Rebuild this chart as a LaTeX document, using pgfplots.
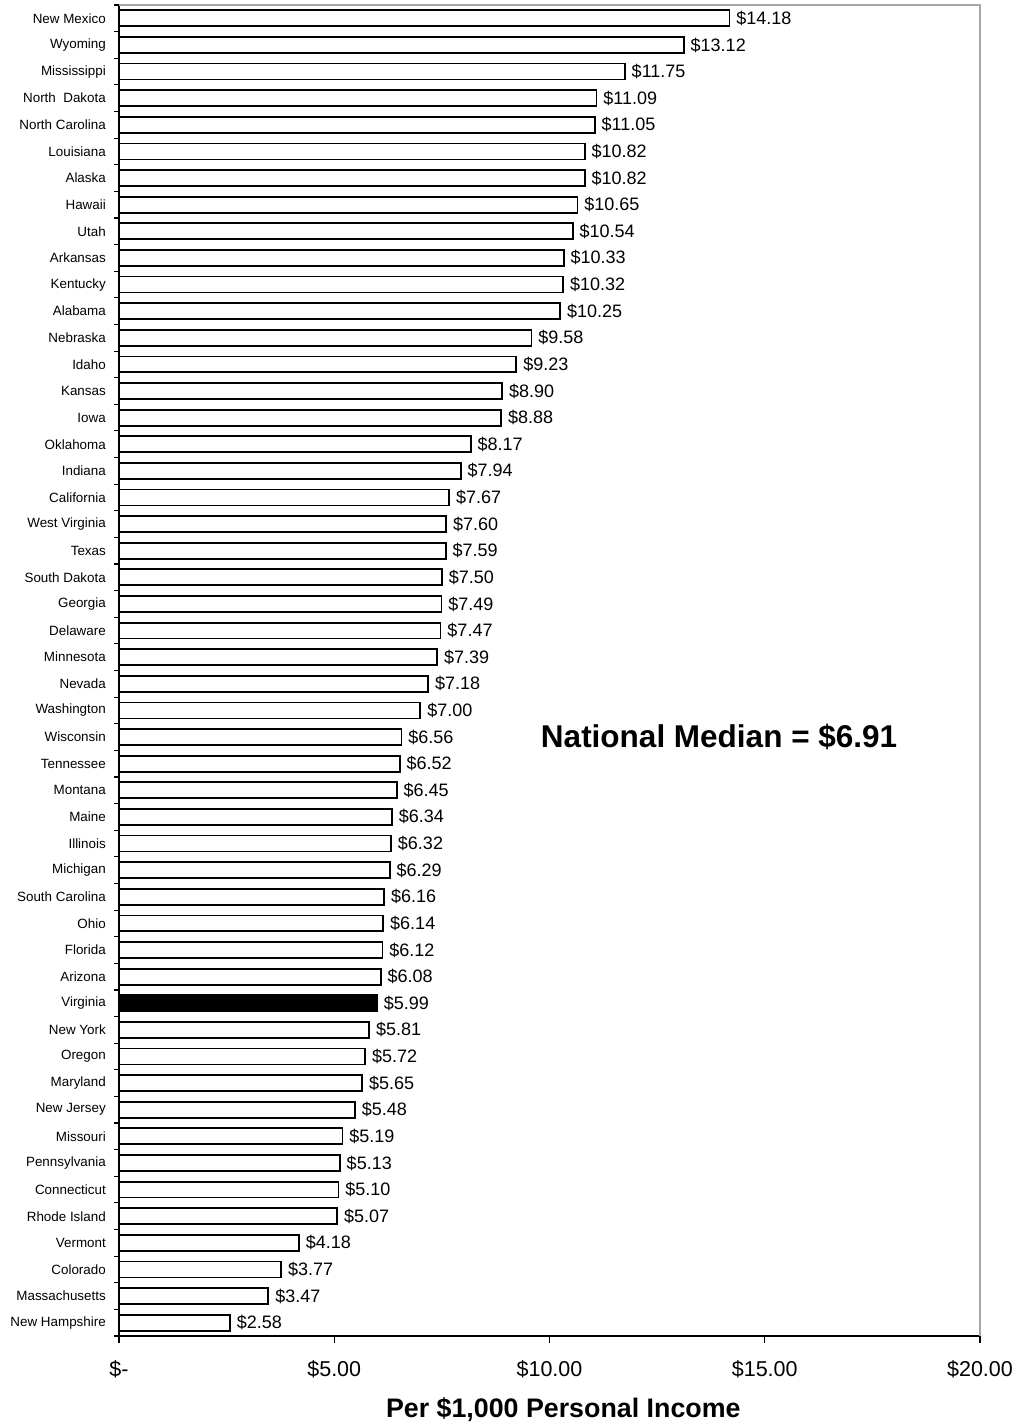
\documentclass[border=0pt]{standalone}
\usepackage{pgfplots}
\pgfplotsset{compat=1.18}
\usepackage{fontspec}
\setmainfont{Liberation Sans}

\begin{document}
\begin{tikzpicture}
\path[use as bounding box] (-119pt,-88pt) rectangle (899pt,1336pt);
\begin{axis}[
  at={(0,0)}, anchor=south west,
  scale only axis, width=861pt, height=1331pt,
  xbar, bar shift=0pt, bar width=0.6,
  xmin=0, xmax=20, ymin=-0.5, ymax=49.5,
  clip=false,
  axis x line*=bottom, axis y line*=left,
  axis line style={line width=1.1pt, -},
  /pgf/number format/assume math mode=true,
  xtick={0,5,10,15,20},
  xticklabels={\$-,\$5.00,\$10.00,\$15.00,\$20.00},
  ytick={0,...,49},
  yticklabels={New Hampshire,Massachusetts,Colorado,Vermont,Rhode Island,Connecticut,Pennsylvania,Missouri,New Jersey,Maryland,Oregon,New York,Virginia,Arizona,Florida,Ohio,South Carolina,Michigan,Illinois,Maine,Montana,Tennessee,Wisconsin,Washington,Nevada,Minnesota,Delaware,Georgia,South Dakota,Texas,West Virginia,California,Indiana,Oklahoma,Iowa,Kansas,Idaho,Nebraska,Alabama,Kentucky,Arkansas,Utah,Hawaii,Alaska,Louisiana,North Carolina,North\ \ Dakota,Mississippi,Wyoming,New Mexico},
  minor ytick={-0.5,0.5,...,49.5},
  tick align=outside,
  major tick length=7pt, minor tick length=5pt,
  major y tick style={draw=none},
  every tick/.style={black, line width=1.1pt},
  yticklabel style={font=\fontsize{13.4}{15}\selectfont, inner sep=0pt, xshift=-6pt},
  xticklabel style={font=\fontsize{21.5}{24}\selectfont, inner sep=0pt, anchor=base, yshift=-33pt},
  point meta=x,
  nodes near coords={\$\pgfmathprintnumber[fixed,fixed zerofill,precision=2]{\pgfplotspointmeta}},
  nodes near coords style={font=\fontsize{18}{20}\selectfont, anchor=west, inner sep=0pt, xshift=6pt},
  every axis plot/.append style={draw=black, line width=1.8pt},
]
\addplot[fill=white] coordinates {
(2.58,0) (3.47,1) (3.77,2) (4.18,3) (5.07,4) (5.10,5) (5.13,6) (5.19,7)
(5.48,8) (5.65,9) (5.72,10) (5.81,11) (6.08,13) (6.12,14) (6.14,15)
(6.16,16) (6.29,17) (6.32,18) (6.34,19) (6.45,20) (6.52,21) (6.56,22) (7.00,23)
(7.18,24) (7.39,25) (7.47,26) (7.49,27) (7.50,28) (7.59,29) (7.60,30) (7.67,31)
(7.94,32) (8.17,33) (8.88,34) (8.90,35) (9.23,36) (9.58,37) (10.25,38) (10.32,39)
(10.33,40) (10.54,41) (10.65,42) (10.82,43) (10.82,44) (11.05,45) (11.09,46)
(11.75,47) (13.12,48) (14.18,49)
};
\addplot[fill=black] coordinates {(5.99,12)};
\draw[gray!70, line width=1.1pt] (rel axis cs:0,1) -- (rel axis cs:1,1) -- (rel axis cs:1,0);
\node[font=\bfseries\fontsize{31.5}{36}\selectfont] at (axis cs:13.94,22) {National Median = \$6.91};
\node[font=\bfseries\fontsize{26.8}{30}\selectfont, anchor=base] at (rel axis cs:0.516,-0.0616) {Per \$1,000 Personal Income};
\end{axis}
\end{tikzpicture}
\end{document}
